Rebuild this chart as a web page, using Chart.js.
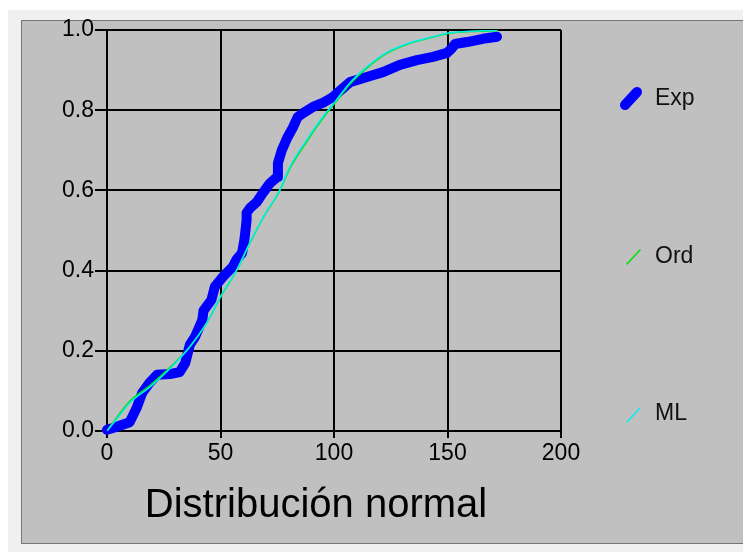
<!DOCTYPE html>
<html><head><meta charset="utf-8">
<script src="https://cdn.jsdelivr.net/npm/chart.js@4.4.0/dist/chart.umd.min.js"></script>
<style>
html,body{margin:0;padding:0;background:#fff;width:743px;height:553px;overflow:hidden;}
#frame{position:absolute;left:8px;top:10px;width:735px;height:542px;background:#f0f0f0;}
#panel{position:absolute;left:21px;top:20px;width:730px;height:522px;background:#c0c0c0;border:1px solid #777;}
#c{position:absolute;left:0;top:0;}
</style></head><body>
<div id="frame"></div><div id="panel"></div>
<canvas id="c" width="743" height="553"></canvas>
<script>
// ---- data ----
const xTicks = [0, 50, 100, 150, 200];
const yTicks = [0, 0.2, 0.4, 0.6, 0.8, 1.0];
const seriesNames = ['Exp', 'Ord', 'ML'];
const chartTitle = 'Distribución normal';

const expX = [0, 3, 10, 13, 15.5, 19, 22, 27.7, 32, 34.5, 36.5, 38.8, 42, 42.5, 46, 47.5, 51, 55.5, 57, 59.5, 60.5, 61, 61.5, 61.5, 63, 66, 68.7, 71.8, 74.9, 75.3, 77, 79.3, 82, 84, 87, 90.7, 95, 99.5, 104, 107, 114.5, 121.6, 129, 136.5, 143.6, 149.8, 152, 153.3, 158.6, 165.6, 171.8];
const expY = [0.003, 0.008, 0.022, 0.057, 0.095, 0.122, 0.14, 0.142, 0.147, 0.17, 0.215, 0.235, 0.277, 0.30, 0.327, 0.36, 0.384, 0.41, 0.427, 0.444, 0.476, 0.50, 0.526, 0.544, 0.556, 0.571, 0.594, 0.618, 0.633, 0.668, 0.70, 0.73, 0.758, 0.783, 0.795, 0.808, 0.818, 0.833, 0.855, 0.87, 0.883, 0.895, 0.913, 0.925, 0.933, 0.943, 0.955, 0.965, 0.970, 0.978, 0.983];

const ordX = [0, 5, 10, 19, 28, 36.5, 44, 50.5, 57, 63, 69, 76, 80.5, 88, 95, 101, 107, 114.5, 123, 133.5, 143.5, 151, 160, 172];
const ordY = [0.0, 0.039, 0.074, 0.114, 0.16, 0.21, 0.27, 0.339, 0.399, 0.469, 0.534, 0.598, 0.654, 0.722, 0.779, 0.822, 0.865, 0.905, 0.941, 0.967, 0.982, 0.992, 0.996, 0.998];

const mlX = [0, 5, 10, 19, 28, 36.5, 44, 50.5, 57, 63, 69, 76, 80.5, 88, 95, 101, 107, 114.5, 123, 133.5, 143.5, 151, 160, 172];
const mlY = [0.0, 0.035, 0.07, 0.11, 0.157, 0.21, 0.27, 0.34, 0.40, 0.47, 0.535, 0.60, 0.658, 0.726, 0.783, 0.825, 0.868, 0.908, 0.943, 0.968, 0.983, 0.993, 0.997, 0.999];

const toPts = (xs, ys) => xs.map((x, i) => ({x: x, y: ys[i]}));

const FONT = "'Liberation Sans', Arial, sans-serif";
Chart.defaults.font.family = FONT;

const legendPos = [
  {x1: 625, y1: 105, x2: 637, y2: 92, ty: 99},
  {x1: 627, y1: 264, x2: 640, y2: 250, ty: 257},
  {x1: 627, y1: 422, x2: 640, y2: 408, ty: 414}
];

const decor = {
  id: 'decor',
  afterDraw(chart) {
    const ctx = chart.ctx;
    ctx.save();
    chart.data.datasets.forEach((ds, i) => {
      const p = legendPos[i];
      ctx.beginPath();
      ctx.strokeStyle = ds.borderColor;
      ctx.lineWidth = ds.borderWidth;
      ctx.lineCap = 'round';
      ctx.moveTo(p.x1, p.y1);
      ctx.lineTo(p.x2, p.y2);
      ctx.stroke();
      ctx.fillStyle = '#111';
      ctx.font = '23px ' + FONT;
      ctx.textAlign = 'left';
      ctx.textBaseline = 'middle';
      ctx.fillText(ds.label, 655, p.ty);
    });
    ctx.fillStyle = '#000';
    ctx.font = '40px ' + FONT;
    ctx.textAlign = 'center';
    ctx.textBaseline = 'alphabetic';
    ctx.fillText(chartTitle, 316, 517);
    ctx.restore();
  }
};

new Chart(document.getElementById('c').getContext('2d'), {
  type: 'line',
  data: {
    datasets: [
      {label: seriesNames[0], data: toPts(expX, expY), borderColor: '#0000ff', borderWidth: 10,
       borderCapStyle: 'round', borderJoinStyle: 'round', tension: 0, pointRadius: 0, clip: false, order: 3},
      {label: seriesNames[1], data: toPts(ordX, ordY), borderColor: '#00e000', borderWidth: 1.5,
       cubicInterpolationMode: 'monotone', pointRadius: 0, order: 2},
      {label: seriesNames[2], data: toPts(mlX, mlY), borderColor: '#00eeee', borderWidth: 1.5,
       cubicInterpolationMode: 'monotone', pointRadius: 0, order: 1}
    ]
  },
  options: {
    responsive: false,
    animation: false,
    layout: {padding: {left: 0, top: 30, right: 182, bottom: 0}},
    plugins: {legend: {display: false}, tooltip: {enabled: false}, title: {display: false}},
    scales: {
      x: {
        type: 'linear', min: 0, max: 200,
        afterBuildTicks: s => { s.ticks = xTicks.map(v => ({value: v})); },
        afterFit: s => { s.height = 122; },
        grid: {color: '#000', lineWidth: 2, tickLength: 7, drawTicks: true},
        border: {color: '#000', width: 2},
        ticks: {color: '#000', padding: 2, maxRotation: 0, font: {size: 23}, callback: v => String(v)}
      },
      y: {
        type: 'linear', min: 0, max: 1,
        afterBuildTicks: s => { s.ticks = yTicks.map(v => ({value: v})); },
        afterFit: s => { s.width = 107; },
        grid: {color: '#000', lineWidth: 2, tickLength: 12, drawTicks: true},
        border: {color: '#000', width: 2},
        ticks: {color: '#000', padding: 1, font: {size: 23}, callback: v => Number(v).toFixed(1)}
      }
    }
  },
  plugins: [decor]
});
</script>
</body></html>
